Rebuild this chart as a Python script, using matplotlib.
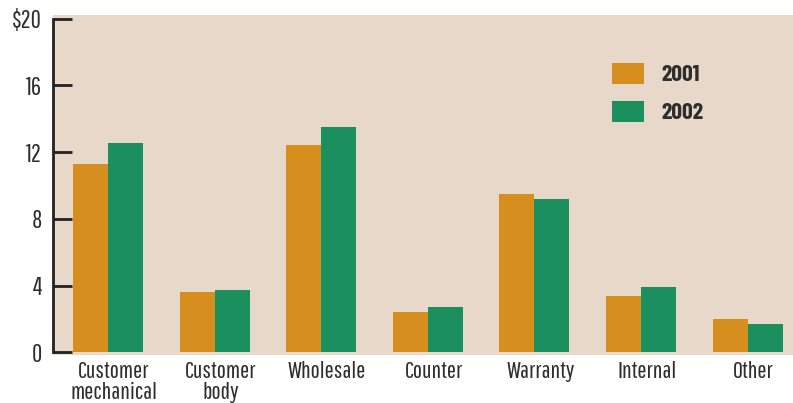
import numpy as np
import matplotlib
matplotlib.use("Agg")
import matplotlib.pyplot as plt

# categorias e valores
categorias = ["Customer\nmechanical", "Customer\nbody", "Wholesale", "Counter",
              "Warranty", "Internal", "Other"]
vendas_2001 = [11.3, 3.6, 12.4, 2.4, 9.5, 3.4, 2.0]
vendas_2002 = [12.55, 3.75, 13.5, 2.7, 9.2, 3.9, 1.7]
ticks_y = [0, 4, 8, 12, 16, 20]
labels_y = ["0", "4", "8", "12", "16", "$20"]

cor_2001 = "#D68F1F"
cor_2002 = "#1B905E"
cor_fundo = "#E7D8C9"
cor_texto = "#2E2E2E"

plt.rcParams["font.family"] = ["Pathway Gothic One", "DejaVu Sans"]

fig = plt.figure(figsize=(7.93, 4.03), dpi=100)
ax = fig.add_axes([53 / 793, 48 / 403, 740 / 793, 340 / 403])
ax.set_facecolor(cor_fundo)

x = np.arange(len(categorias))
largura = 0.328
ax.bar(x - largura / 2, vendas_2001, largura, color=cor_2001, label="2001")
ax.bar(x + largura / 2, vendas_2002, largura, color=cor_2002, label="2002")

ax.set_xlim(-0.516, 6.426)
ax.set_ylim(-0.16, 20.22)

# eixo y
for lado in ["top", "right", "bottom"]:
    ax.spines[lado].set_visible(False)
ax.spines["left"].set_bounds(0, 20)
ax.spines["left"].set_linewidth(2)
ax.spines["left"].set_color("#222222")
ax.set_yticks(ticks_y)
ax.set_yticklabels(labels_y)
ax.tick_params(axis="y", direction="in", length=14, width=2, color="#222222",
               pad=8, labelsize=18, labelcolor=cor_texto)

# eixo x
ax.set_xticks(x + 0.055)
ax.set_xticklabels(categorias, linespacing=1.0)
ax.tick_params(axis="x", length=0, pad=4, labelsize=17.5, labelcolor=cor_texto)

leg = ax.legend(loc="upper left", bbox_to_anchor=(0.739, 0.895), frameon=False,
                borderpad=0, handlelength=1.39, handleheight=1.0,
                handletextpad=0.7, labelspacing=0.66,
                prop={"family": ["Barlow Condensed", "DejaVu Sans"], "size": 17, "weight": "bold"})
for t in leg.get_texts():
    t.set_color(cor_texto)

fig.savefig("out.png", dpi=100)
